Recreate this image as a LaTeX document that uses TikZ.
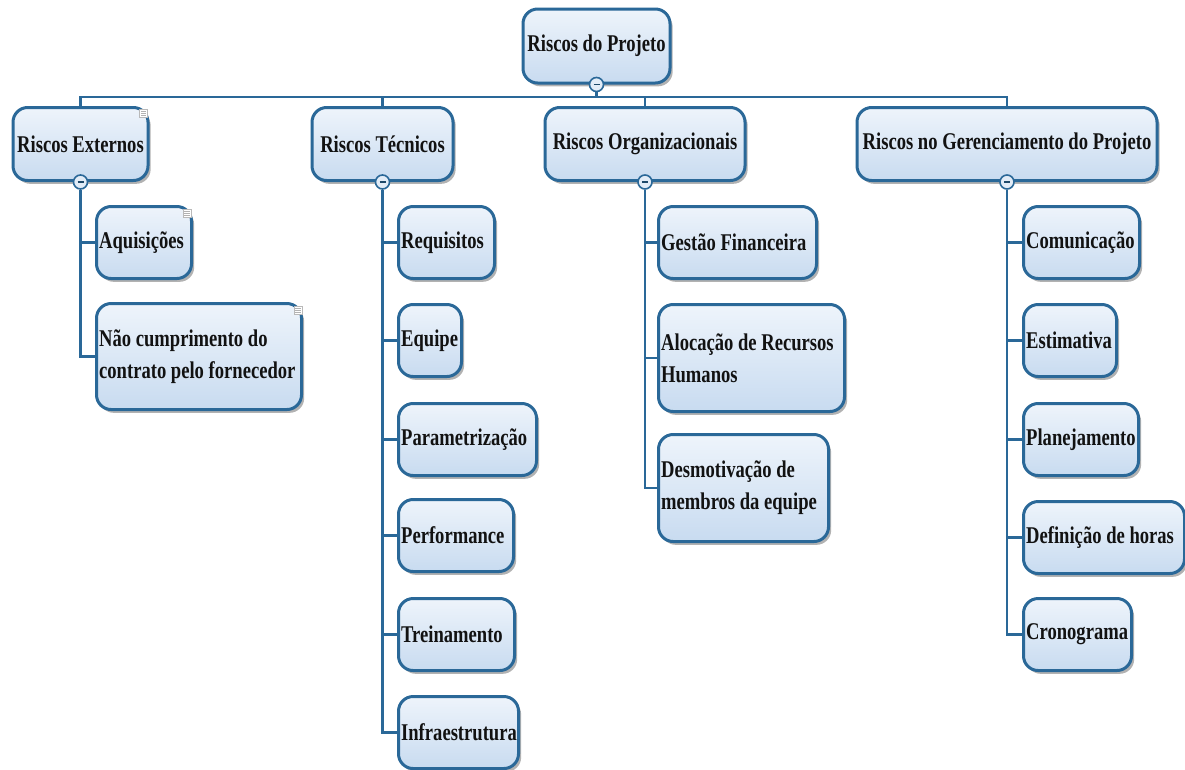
\documentclass[tikz,border=0pt]{standalone}
\usepackage{fontspec}
\newfontfamily\boxfont{Liberation Serif}[FakeStretch=0.775]
\usetikzlibrary{shadows,calc}
\definecolor{bord}{RGB}{42,104,152}
\definecolor{ftop}{RGB}{238,244,251}
\definecolor{fbot}{RGB}{200,219,240}
\definecolor{txt}{RGB}{18,18,18}
\definecolor{btnfill}{RGB}{226,236,247}
\begin{document}
\hyphenpenalty=10000 \exhyphenpenalty=10000
\begin{tikzpicture}[x=0.75pt,y=-0.75pt,
  box/.style={draw=bord, line width=2.25pt, rounded corners=11pt,
    top color=ftop, bottom color=fbot,
    drop shadow={shadow xshift=2pt, shadow yshift=-2.5pt, fill=black, opacity=0.3},
    font=\boxfont\bfseries\fontsize{18}{24}\selectfont, text=txt, inner sep=0pt},
  lvlone/.style={box, align=center},
  leafbox/.style 2 args={box, anchor=north west, align=flush left, inner xsep=2pt,
    text width=#1, minimum height=#2},
  conn/.style={draw=bord, line width=1.9pt},
  minusbtn/.style={circle, draw=bord, line width=1.2pt, fill=btnfill,
    minimum size=10.5pt, inner sep=0pt},
  noteicon/.style={rectangle, draw=gray!55, fill=white, line width=0.4pt,
    minimum size=6pt, inner sep=0pt,
    path picture={
      \draw[gray!60, line width=0.4pt]
        ([xshift=1pt,yshift=1.5pt]path picture bounding box.west) -- ([xshift=-1pt,yshift=1.5pt]path picture bounding box.east)
        ([xshift=1pt]path picture bounding box.west) -- ([xshift=-1pt]path picture bounding box.east)
        ([xshift=1pt,yshift=-1.5pt]path picture bounding box.west) -- ([xshift=-1pt,yshift=-1.5pt]path picture bounding box.east);
    }}
]
\path[use as bounding box, fill=white] (0,0) rectangle (1185,769);

% root and first level
\node[lvlone, minimum width=110.25pt, minimum height=55.5pt] (root) at (596.5,46) {Riscos do Projeto};
\node[lvlone, minimum width=101.25pt, minimum height=54.75pt] (e) at (80.5,144) {Riscos Externos};
\node[lvlone, minimum width=105.75pt, minimum height=54.75pt] (t) at (382.5,144) {Riscos Técnicos};
\node[lvlone, minimum width=150pt, minimum height=54.75pt] (o) at (645,144) {Riscos Organizacionais};
\node[lvlone, minimum width=225pt, minimum height=54.75pt] (g) at (1007,144) {Riscos no Gerenciamento do Projeto};

% Riscos Externos
\node[leafbox={67.25pt}{54pt}] (e1) at (95,205) {\mbox{Aquisições}};
\node[leafbox={149.75pt}{79.5pt}] (e2) at (95,302) {\mbox{Não cumprimento do}\\\mbox{contrato pelo fornecedor}};

% Riscos Tecnicos
\node[leafbox={68pt}{54pt}] (t1) at (397,205) {\mbox{Requisitos}};
\node[leafbox={43.25pt}{54pt}] (t2) at (397,303) {\mbox{Equipe}};
\node[leafbox={99.5pt}{54pt}] (t3) at (397,402) {\mbox{Parametrização}};
\node[leafbox={82.25pt}{54pt}] (t4) at (397,498) {\mbox{Performance}};
\node[leafbox={83pt}{54pt}] (t5) at (397,597) {\mbox{Treinamento}};
\node[leafbox={86pt}{54pt}] (t6) at (397,695) {\mbox{Infraestrutura}};

% Riscos Organizacionais
\node[leafbox={114.5pt}{54pt}] (o1) at (657,205) {\mbox{Gestão Financeira}};
\node[leafbox={135.5pt}{80.25pt}] (o2) at (657,303) {\mbox{Alocação de Recursos}\\\mbox{Humanos}};
\node[leafbox={123.5pt}{80.25pt}] (o3) at (657,433) {\mbox{Desmotivação de}\\\mbox{membros da equipe}};

% Riscos no Gerenciamento
\node[leafbox={83pt}{54pt}] (g1) at (1022,205) {\mbox{Comunicação}};
\node[leafbox={65.75pt}{54pt}] (g2) at (1022,303) {\mbox{Estimativa}};
\node[leafbox={82.25pt}{54pt}] (g3) at (1022,402) {\mbox{Planejamento}};
\node[leafbox={116.75pt}{54pt}] (g4) at (1022,500) {\mbox{Definição de horas}};
\node[leafbox={77pt}{54pt}] (g5) at (1022,597) {\mbox{Cronograma}};

% collapse buttons
\node[minusbtn] (rootc) at (root.south) {\color{bord!70!black}\rule{4.5pt}{1.2pt}};
\node[minusbtn] (ec) at (e.south) {\color{bord!70!black}\rule{4.5pt}{1.2pt}};
\node[minusbtn] (tc) at (t.south) {\color{bord!70!black}\rule{4.5pt}{1.2pt}};
\node[minusbtn] (oc) at (o.south) {\color{bord!70!black}\rule{4.5pt}{1.2pt}};
\node[minusbtn] (gc) at (g.south) {\color{bord!70!black}\rule{4.5pt}{1.2pt}};

% note icons
\node[noteicon] (n1) at ($(e.north east)+(-6,7)$) {};
\node[noteicon] (n2) at ($(e1.north east)+(-6,8)$) {};
\node[noteicon] (n3) at ($(e2.north east)+(-5,8)$) {};

% connectors
\coordinate (bus) at (596.5,97);
\draw[conn] (rootc.south) -- (rootc.south |- bus);
\draw[conn] (e.north) |- (bus) -| (g.north);
\draw[conn] (t.north) -- (t.north |- bus);
\draw[conn] (o.north) -- (o.north |- bus);

\draw[conn] (ec.south) |- (e2.west);
\draw[conn] (ec.south |- e1.west) -- (e1.west);

\draw[conn] (tc.south) |- (t6.west);
\foreach \c in {t1,t2,t3,t4,t5} \draw[conn] (tc.south |- \c.west) -- (\c.west);

\draw[conn] (oc.south) |- (o3.west);
\foreach \c in {o1,o2} \draw[conn] (oc.south |- \c.west) -- (\c.west);

\draw[conn] (gc.south) |- (g5.west);
\foreach \c in {g1,g2,g3,g4} \draw[conn] (gc.south |- \c.west) -- (\c.west);
\end{tikzpicture}
\end{document}
